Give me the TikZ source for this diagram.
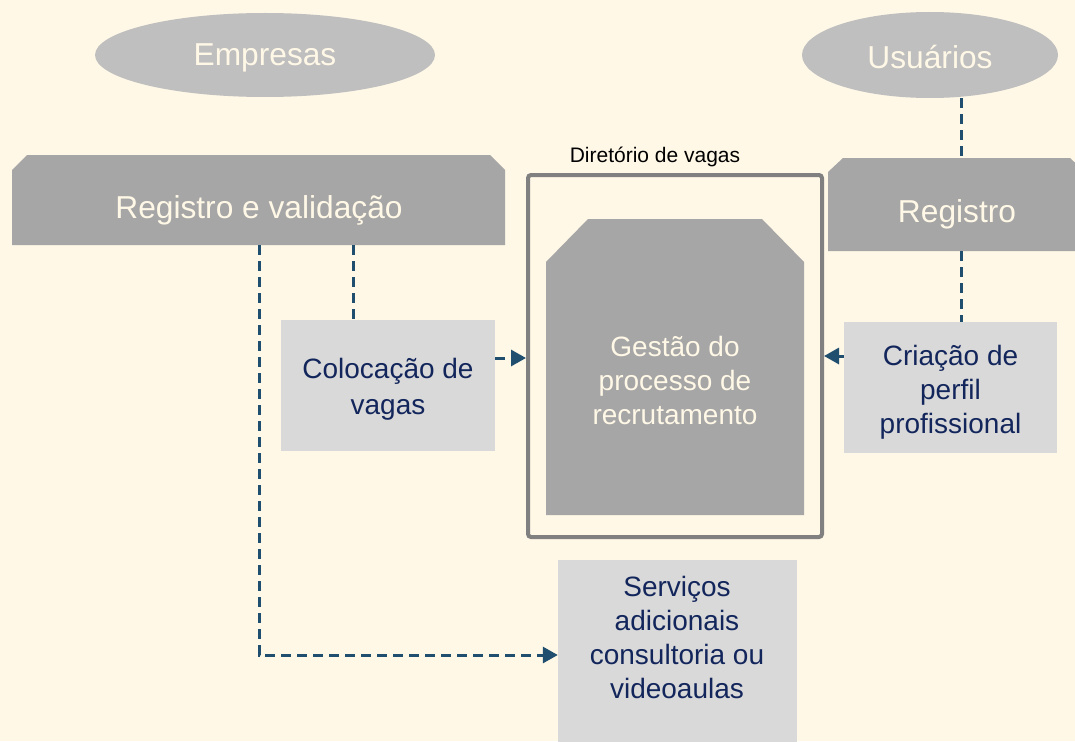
\documentclass[tikz,border=0pt]{standalone}
\usepackage{fontspec}
\setmainfont{Liberation Sans}
\usetikzlibrary{arrows.meta,shapes.geometric}
\definecolor{bg}{HTML}{FFF8E7}
\definecolor{ellgray}{HTML}{BFBFBF}
\definecolor{darkgray}{HTML}{A6A6A6}
\definecolor{lightbox}{HTML}{D9D9D9}
\definecolor{navy}{HTML}{13265C}
\definecolor{cream}{HTML}{FFF8E7}
\definecolor{linkc}{HTML}{1F4E6E}
\definecolor{framec}{HTML}{808080}
\begin{document}
\begin{tikzpicture}[x=1pt,y=-1pt,
  ellnode/.style={ellipse, fill=ellgray, inner sep=0pt},
  graylabel/.style={text=cream, font=\fontsize{31.7}{36}\selectfont, inner sep=0pt, align=center},
  innerlabel/.style={text=cream, font=\fontsize{28}{34}\selectfont, inner sep=0pt, align=center},
  lightnode/.style={fill=lightbox, inner sep=0pt},
  navytext/.style={text=navy, font=\fontsize{28}{34}\selectfont, align=center, inner sep=0pt},
  link/.style={draw=linkc, line width=3pt, dash pattern=on 10pt off 6pt},
  arr/.style={-{Triangle[length=15pt,width=16pt]}}
]
\fill[bg] (0,0) rectangle (1075,741);
\useasboundingbox (0,0) rectangle (1075,741);
\clip (0,0) rectangle (1075,741);

% ellipses
\node[ellnode, minimum width=340, minimum height=84] (emp) at (265,55) {};
\node[graylabel] (emptext) at (265,58) {Empresas};
\node[ellnode, minimum width=256, minimum height=86] (usu) at (930,55) {};
\node[graylabel] (usutext) at (930,57) {Usuários};

% Registro e validacao
\fill[darkgray] (12,170) -- (27,155) -- (490,155) -- (505,170) -- (505,245) -- (12,245) -- cycle;
\node[minimum width=493, minimum height=90, inner sep=0pt] (regval) at (258.5,200) {};
\node[graylabel] (regvaltext) at (259,210) {Registro e validação};

% Registro
\fill[darkgray] (828,172) -- (843,158) -- (1070,158) -- (1085,172) -- (1085,251) -- (828,251) -- cycle;
\node[minimum width=257, minimum height=93, inner sep=0pt] (reg) at (956.5,204.5) {};
\node[graylabel] (regtext) at (957,214) {Registro};

% Diretorio
\node[draw=framec, line width=4pt, rounded corners=3pt, minimum width=294, minimum height=362, inner sep=0pt] (dir) at (675,356) {};
\node[font=\fontsize{21}{25}\selectfont, inner sep=0pt] (dirlabel) at (655,157) {Diretório de vagas};

% Gestao
\fill[darkgray] (546,262) -- (588,219) -- (762,219) -- (804,262) -- (804,515) -- (546,515) -- cycle;
\node[innerlabel] (gest) at (675,380) {Gestão do\\processo de\\recrutamento};

% light boxes
\node[lightnode, minimum width=214, minimum height=131] (col) at (388,385.5) {};
\node[navytext, font=\fontsize{28}{36}\selectfont] (coltext) at (388,389) {Colocação de\\vagas};
\node[lightnode, minimum width=213, minimum height=131] (cri) at (950.5,387.5) {};
\node[navytext] (critext) at (950.5,392) {Criação de\\perfil\\profissional};
\node[lightnode, minimum width=239, minimum height=190] (serv) at (677.5,655) {};
\node[navytext] (servtext) at (677,637) {Serviços\\adicionais\\consultoria ou\\videoaulas};

% connectors
\coordinate (rx) at (961,0);
\coordinate (lx) at (259,0);
\coordinate (cx) at (353,0);
\coordinate (ya) at (0,358);
\coordinate (yb) at (0,356);
\draw[link] (usu.south -| rx) -- (reg.north -| rx);
\draw[link] (reg.south -| rx) -- (cri.north -| rx);
\draw[link] (regval.south -| cx) -- (col.north -| cx);
\draw[link,arr] (col.east |- ya) -- (dir.west |- ya);
\draw[link,arr] (cri.west |- yb) -- (dir.east |- yb);
\draw[link,arr] (regval.south -| lx) |- (serv.west);
\end{tikzpicture}
\end{document}
